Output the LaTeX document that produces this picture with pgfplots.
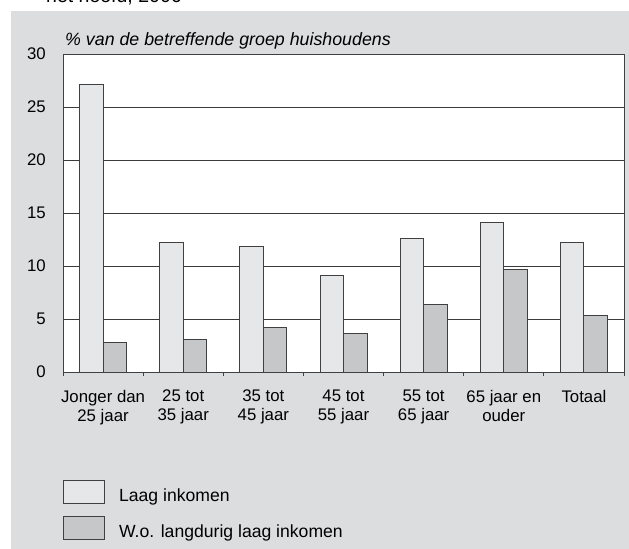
\documentclass[border=0pt]{standalone}
\usepackage{fontspec}
\setmainfont{Liberation Sans}
\usepackage{pgfplots}
\pgfplotsset{compat=1.18}
\definecolor{panel}{HTML}{DCDDDF}
\definecolor{lightbar}{HTML}{E6E7E9}
\definecolor{darkbar}{HTML}{C6C7C9}
\definecolor{edgec}{HTML}{404040}
\definecolor{gridc}{HTML}{3A3A3A}
\begin{document}
\begin{tikzpicture}
\useasboundingbox (0,0) rectangle (629bp,549bp);
\clip (0,0) rectangle (629bp,549bp);
\fill[panel] (11bp,0) rectangle (629bp,538bp);
\node[anchor=base west, inner sep=0pt, font=\fontsize{19.5bp}{22bp}\selectfont] at (46bp,546bp) {het hoofd, 2006};
\begin{axis}[
  at={(63bp,177bp)}, anchor=south west,
  width=561bp, height=318bp, scale only axis,
  axis background/.style={fill=white},
  xmin=-0.5, xmax=6.5, ymin=0, ymax=30,
  ybar=0pt, bar width=23.5bp,
  xtick={0,...,6},
  xticklabels={{Jonger dan\\25 jaar},{25 tot\\35 jaar},{35 tot\\45 jaar},{45 tot\\55 jaar},{55 tot\\65 jaar},{65 jaar en\\ouder},{Totaal}},
  minor xtick={-0.5,0.5,...,6.5},
  ytick={0,5,...,30},
  xtick pos=bottom, ytick pos=left,
  tick align=outside,
  major tick length=0pt, minor tick length=4bp,
  minor tick style={draw=edgec, line width=0.9bp},
  ymajorgrids, grid style={draw=gridc, line width=0.9bp},
  axis line style={draw=edgec, line width=0.9bp},
  /pgf/number format/assume math mode=true,
  tick label style={font=\fontsize{16.8bp}{19bp}\selectfont, inner sep=0pt},
  yticklabel style={anchor=east, xshift=-17bp},
  xticklabel style={align=center, anchor=north, yshift=-18bp},
  every axis title shift/.style={yshift=0pt},
  title={\itshape \% van de betreffende groep huishoudens},
  title style={at={(0,1)}, anchor=base west, yshift=3bp, xshift=2bp, inner sep=0pt, font=\fontsize{17.8bp}{20bp}\selectfont},
  legend style={at={(0,0)}, anchor=north west, yshift=-108bp, draw=none, fill=none, inner sep=0pt,
    row sep=12bp, /tikz/column sep=14bp, font=\fontsize{17.6bp}{20bp}\selectfont,
    nodes={inner sep=0pt}},
  legend cell align=left,
  legend image code/.code={\draw[#1, draw=edgec, line width=0.9bp] (0bp,-7.7bp) rectangle (41bp,15.3bp);},
]
\addplot[fill=lightbar, draw=edgec, line width=0.9bp] coordinates {(0,27.1) (1,12.25) (2,11.8) (3,9.1) (4,12.6) (5,14.1) (6,12.25)};
\addplot[fill=darkbar, draw=edgec, line width=0.9bp] coordinates {(0,2.75) (1,3.1) (2,4.2) (3,3.65) (4,6.35) (5,9.65) (6,5.35)};
\legend{Laag inkomen, W.o. langdurig laag inkomen}
\end{axis}
\end{tikzpicture}
\end{document}
